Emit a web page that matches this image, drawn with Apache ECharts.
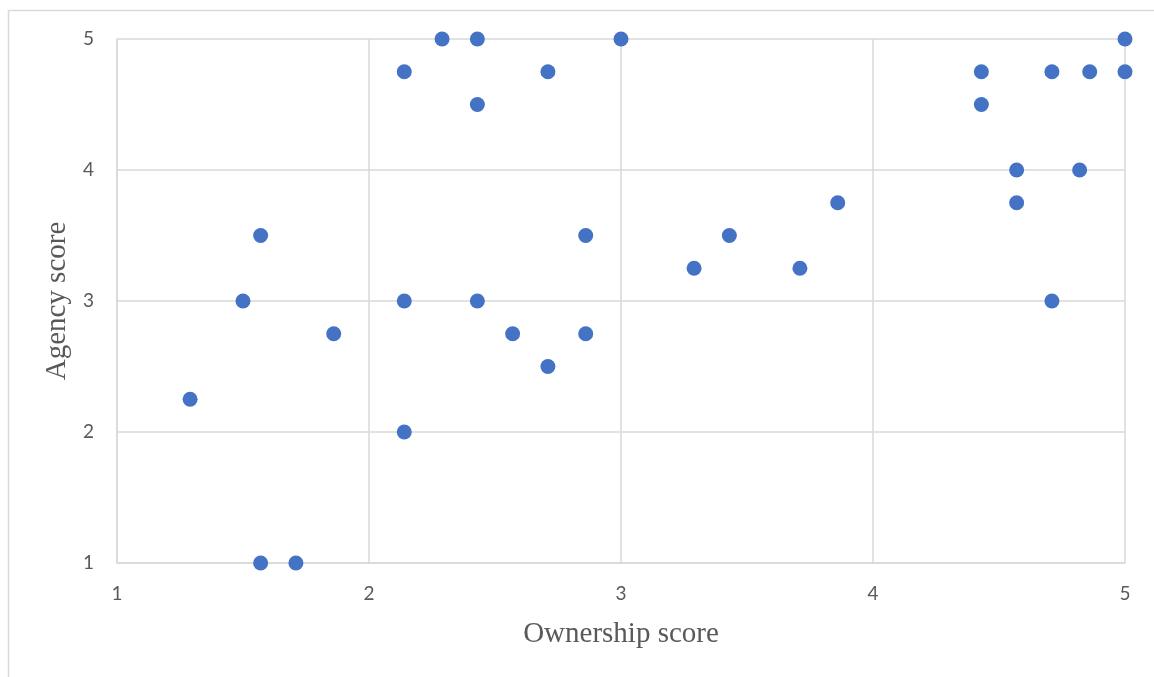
<!DOCTYPE html>
<html>
<head>
<meta charset="utf-8">
<script src="https://cdn.jsdelivr.net/npm/echarts@6/dist/echarts.min.js"></script>
<style>html,body{margin:0;padding:0;background:#fff}#c{width:1154px;height:677px}</style>
</head>
<body>
<div id="c"></div>
<script>
const ownership = [1.29, 1.5, 1.57, 1.57, 1.71, 1.86, 2.14, 2.14, 2.14, 2.29, 2.43, 2.43, 2.43, 2.57, 2.71, 2.71, 2.86, 2.86, 3, 3.29, 3.43, 3.71, 3.86, 4.43, 4.43, 4.57, 4.57, 4.71, 4.71, 4.82, 4.86, 5, 5];
const agency = [2.25, 3, 3.5, 1, 1, 2.75, 4.75, 3, 2, 5, 5, 4.5, 3, 2.75, 4.75, 2.5, 3.5, 2.75, 5, 3.25, 3.5, 3.25, 3.75, 4.75, 4.5, 4, 3.75, 4.75, 3, 4, 4.75, 5, 4.75];
const xTicks = [1, 2, 3, 4, 5];
const yTicks = [1, 2, 3, 4, 5];
const xTitle = 'Ownership score';
const yTitle = 'Agency score';

const points = ownership.map((x, i) => [x, agency[i]]);
const chart = echarts.init(document.getElementById('c'));
const labelStyle = { color: '#595959', fontSize: 19, fontFamily: 'Lato, "Open Sans", sans-serif' };
const titleStyle = { color: '#595959', fontSize: 29, fontFamily: '"Liberation Serif", "Times New Roman", serif' };
chart.setOption({
  animation: false,
  graphic: [{
    type: 'rect', left: 6, top: 8, shape: { width: 1200, height: 700 },
    style: { fill: 'none', stroke: '#d9d9d9', lineWidth: 1.5 }, silent: true, z: -1
  }],
  grid: { left: 117, top: 39, right: 29, bottom: 114, containLabel: false },
  xAxis: {
    type: 'value', min: xTicks[0], max: xTicks[xTicks.length - 1], interval: 1,
    name: xTitle, nameLocation: 'middle', nameGap: 57,
    nameTextStyle: titleStyle,
    axisLine: { show: true, lineStyle: { color: '#d9d9d9', width: 1.5 } },
    axisTick: { show: false },
    axisLabel: Object.assign({ margin: 21 }, labelStyle),
    splitLine: { show: true, lineStyle: { color: '#d9d9d9', width: 1.5 } }
  },
  yAxis: {
    type: 'value', min: yTicks[0], max: yTicks[yTicks.length - 1], interval: 1,
    name: yTitle, nameLocation: 'middle', nameGap: 37,
    nameTextStyle: titleStyle,
    axisLine: { show: true, lineStyle: { color: '#d9d9d9', width: 1.5 } },
    axisTick: { show: false },
    axisLabel: Object.assign({ margin: 23 }, labelStyle),
    splitLine: { show: true, lineStyle: { color: '#d9d9d9', width: 1.5 } }
  },
  series: [{
    type: 'scatter', data: points, symbolSize: 15,
    itemStyle: { color: '#4472C4', opacity: 1 }
  }]
});
</script>
</body>
</html>
